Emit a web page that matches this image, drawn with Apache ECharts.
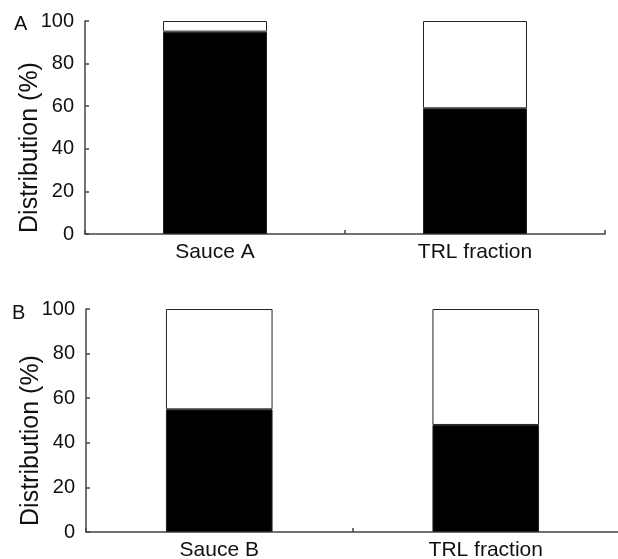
<!DOCTYPE html>
<html>
<head>
<meta charset="utf-8">
<script src="https://cdn.jsdelivr.net/npm/echarts@6/dist/echarts.min.js"></script>
<style>html,body{margin:0;padding:0;background:#fff;}#c{width:618px;height:559px;}</style>
</head>
<body>
<div id="c"></div>
<script>
var categoriesA = ['Sauce A', 'TRL fraction'];
var categoriesB = ['Sauce B', 'TRL fraction'];
var blackA = [95, 59];
var whiteA = [5, 41];
var blackB = [55, 48];
var whiteB = [45, 52];
var yTicks = [0, 20, 40, 60, 80, 100];
var panelLabels = ['A', 'B'];
var yName = 'Distribution (%)';

var FONT = "'Liberation Sans', Arial, sans-serif";
var chart = echarts.init(document.getElementById('c'), null, {renderer: 'canvas'});

function xAxis(idx, cats) {
  return {
    type: 'category', gridIndex: idx, data: cats,
    axisLine: {lineStyle: {color: '#444', width: 1.5}},
    axisTick: {show: true, inside: true, length: 4, lineStyle: {color: '#444', width: 1.5}},
    axisLabel: {color: '#111', fontSize: 21, fontFamily: FONT, margin: 8, interval: 0}
  };
}
function yAxis(idx) {
  return {
    type: 'value', gridIndex: idx, min: yTicks[0], max: yTicks[yTicks.length - 1], interval: yTicks[1] - yTicks[0],
    name: yName, nameLocation: 'middle', nameGap: 42, nameMoveOverlap: false,
    nameTextStyle: {color: '#111', fontSize: 25, fontFamily: FONT, padding: [0, 40, 0, 0]},
    axisLine: {show: true, lineStyle: {color: '#444', width: 1.5}},
    axisTick: {show: true, inside: true, length: 4, lineStyle: {color: '#444', width: 1.5}},
    axisLabel: {color: '#111', fontSize: 20, fontFamily: FONT, margin: 11},
    splitLine: {show: false}
  };
}
function bar(idx, vals, color, stack) {
  return {
    type: 'bar', xAxisIndex: idx, yAxisIndex: idx, stack: stack, data: vals, barWidth: '40%',
    itemStyle: {color: color, borderColor: '#222', borderWidth: 1},
    silent: true, animation: false
  };
}

chart.setOption({
  backgroundColor: '#fff',
  animation: false,
  title: [
    {text: panelLabels[0], left: 9, top: 9, textStyle: {color: '#111', fontSize: 20, fontWeight: 'normal', fontFamily: FONT}},
    {text: panelLabels[1], left: 7, top: 298, textStyle: {color: '#111', fontSize: 20, fontWeight: 'normal', fontFamily: FONT}}
  ],
  grid: [
    {left: 85, right: 13, top: 21, height: 213, outerBoundsMode: 'none', containLabel: false},
    {left: 86, right: -1, top: 309, height: 223, outerBoundsMode: 'none', containLabel: false}
  ],
  xAxis: [xAxis(0, categoriesA), xAxis(1, categoriesB)],
  yAxis: [yAxis(0), yAxis(1)],
  series: [
    bar(0, blackA, '#000', 'a'),
    bar(0, whiteA, '#fff', 'a'),
    bar(1, blackB, '#000', 'b'),
    bar(1, whiteB, '#fff', 'b')
  ]
});
</script>
</body>
</html>
